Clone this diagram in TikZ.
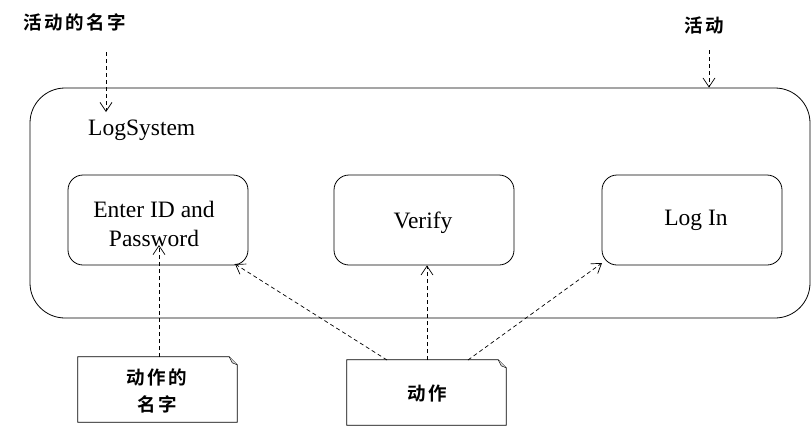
\documentclass[tikz,border=0pt]{standalone}
\usepackage{fontspec}
\setmainfont{Liberation Serif}
\newfontfamily\cjk[LetterSpace=14]{Noto Sans CJK SC Bold}
\usetikzlibrary{arrows.meta,calc}
\begin{document}
\begin{tikzpicture}[x=1pt,y=-1pt,
  frame/.style={draw,line width=0.8pt,rounded corners=35pt,minimum width=780pt,minimum height=230pt},
  actbox/.style={draw,line width=0.8pt,rounded corners=15pt,minimum width=180pt,minimum height=90pt},
  acttext/.style={font=\fontsize{23.5}{29}\selectfont,align=center,inner sep=0pt},
  cjklabel/.style={font=\cjk\fontsize{18.5}{27}\selectfont,inner sep=0pt,align=center},
  notebox/.style={minimum width=159pt,minimum height=65pt,inner sep=0pt},
  ptr/.style={dashed,dash pattern=on 4pt off 3pt,line width=0.7pt,-{Straight Barb[length=9pt,width=12pt,line width=0.7pt]}}
]
\useasboundingbox (0,0) rectangle (812,432);
% outer activity
\node[frame] (outer) at (420,203) {};
\node[anchor=west,font=\fontsize{23.5}{26}\selectfont,inner sep=0pt] (title) at (88,130) {LogSystem};
% actions
\node[actbox] (b1) at (158,220) {};
\node[actbox] (b2) at (424,220) {};
\node[actbox] (b3) at (692,220) {};
\node[acttext] (t1) at (154,224) {Enter ID and\\Password};
\node[acttext] (t2) at (423,223) {Verify};
\node[acttext] (t3) at (696,220) {Log In};
% top labels
\node[cjklabel] (lname) at (75,22) {活动的名字};
\node[cjklabel] (lact) at (704,25) {活动};
\coordinate (a1s) at (106,52);
\coordinate (a1e) at (106,112);
\coordinate (a2s) at (709,50);
\draw[ptr] (a1s) -- (a1e);
\draw[ptr] (a2s) -- (a2s |- outer.north);
% notes
\node[notebox] (n1) at (157.5,389.5) {};
\node[cjklabel] (n1t) at (157,391) {动作的\\名字};
\node[notebox] (n2) at (426.5,392.5) {};
\node[cjklabel] (n2t) at (427,393) {动作};
\foreach \n in {n1,n2}{
  \draw[line width=0.8pt] (\n.north west) -- ($(\n.north east)+(-8,0)$) -- ($(\n.north east)+(0,8)$) -- (\n.south east) -- (\n.south west) -- cycle;
  \draw[line width=0.5pt,fill=gray!30] ($(\n.north east)+(-8,0)$) -- ($(\n.north east)+(-5,6)$) -- ($(\n.north east)+(0,8)$);
}
% pointers from notes
\coordinate (n1s) at (159,357);
\coordinate (n1e) at (159,245);
\draw[ptr] (n1s) -- (n1e);
\coordinate (n2a) at (387,360);
\coordinate (n2b) at (427,360);
\coordinate (n2c) at (468,360);
\coordinate (e1) at (235,264);
\coordinate (e3) at (602,263);
\draw[ptr] (n2a) -- (e1);
\draw[ptr] (n2b) -- (n2b |- b2.south);
\draw[ptr] (n2c) -- (e3);
\end{tikzpicture}
\end{document}
